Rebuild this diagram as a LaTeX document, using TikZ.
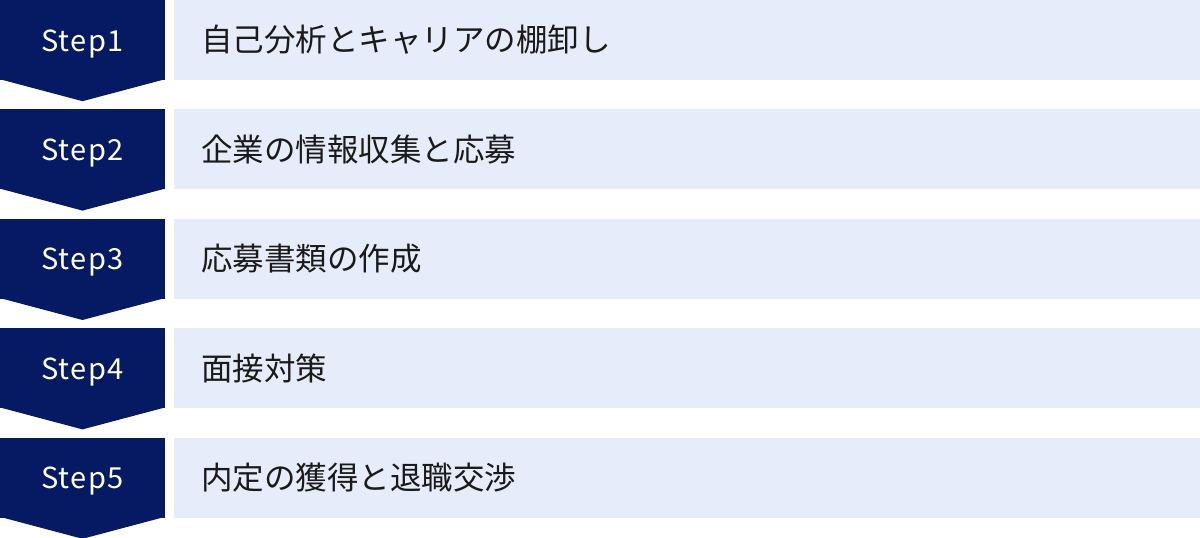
\documentclass[tikz,border=0pt]{standalone}
\usepackage{fontspec}
\setmainfont{Noto Sans CJK JP}
\newfontfamily\stepfont[LetterSpace=5]{Noto Sans CJK JP}
\usetikzlibrary{positioning}
\definecolor{stepnavy}{HTML}{061A64}
\definecolor{taskblue}{HTML}{E6ECF9}
\definecolor{taskink}{HTML}{1A1A1A}
\tikzset{
	step node/.style={rectangle, fill=stepnavy, text=white, inner sep=0, minimum width=165pt, minimum height=80pt, text height=27pt, text depth=5pt, font=\stepfont\fontsize{29}{29}\selectfont},
	task node/.style={rectangle, fill=taskblue, text=taskink, inner xsep=27pt, inner ysep=0, text width=972pt, align=left, minimum height=80pt, font=\fontsize{31.5}{32}\selectfont},
	step tip/.style={fill=stepnavy},
}

\begin{document}
\begin{tikzpicture}[x=1pt, y=1pt]
  \useasboundingbox (0,0) rectangle (1200,-538);

  \node[step node] (s1) at (82.5,-40) {Step1};
  \node[task node, right=9pt of s1] (t1) {自己分析とキャリアの棚卸し};
  \fill[step tip] ([yshift=1pt]s1.south west) -- ([yshift=1pt]s1.south east) -- ([yshift=-21pt]s1.south) -- cycle;

  \node[step node, below=29pt of s1] (s2) {Step2};
  \node[task node, right=9pt of s2] (t2) {企業の情報収集と応募};
  \fill[step tip] ([yshift=1pt]s2.south west) -- ([yshift=1pt]s2.south east) -- ([yshift=-21pt]s2.south) -- cycle;

  \node[step node, below=29pt of s2] (s3) {Step3};
  \node[task node, right=9pt of s3] (t3) {応募書類の作成};
  \fill[step tip] ([yshift=1pt]s3.south west) -- ([yshift=1pt]s3.south east) -- ([yshift=-21pt]s3.south) -- cycle;

  \node[step node, below=29pt of s3] (s4) {Step4};
  \node[task node, right=9pt of s4] (t4) {面接対策};
  \fill[step tip] ([yshift=1pt]s4.south west) -- ([yshift=1pt]s4.south east) -- ([yshift=-21pt]s4.south) -- cycle;

  \node[step node, below=29pt of s4] (s5) {Step5};
  \node[task node, right=9pt of s5] (t5) {内定の獲得と退職交渉};
  \fill[step tip] ([yshift=1pt]s5.south west) -- ([yshift=1pt]s5.south east) -- ([yshift=-21pt]s5.south) -- cycle;

\end{tikzpicture}
\end{document}
